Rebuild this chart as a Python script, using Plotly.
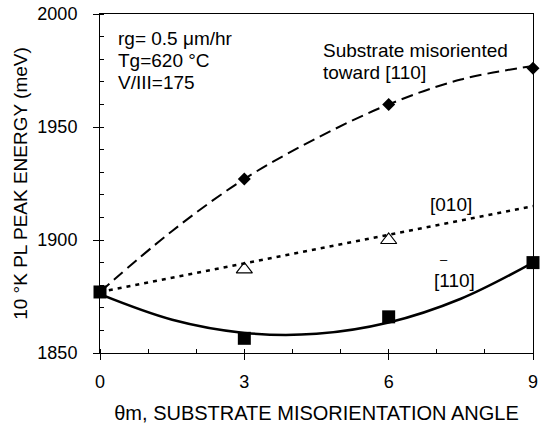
import plotly.graph_objects as go

# Measured data points
theta_110 = [3, 6, 9]
e_110 = [1927, 1960, 1976]
theta_010 = [3, 6]
e_010 = [1887, 1900]
theta_1b10 = [0, 3, 6, 9]
e_1b10 = [1877, 1856.5, 1866, 1890]

# Fitted curves
curve_x = [0, 1.5, 3, 4.5, 6, 7.5, 9]
curve_110 = [1877, 1904, 1927, 1945, 1960, 1971, 1977]
curve_1b10 = [1876, 1864.7, 1858.9, 1858.5, 1863.5, 1874, 1890]
line_010_x = [0, 9]
line_010_y = [1877, 1915]

x_ticks = [0, 3, 6, 9]
y_ticks = [1850, 1900, 1950, 2000]

FONT = "Liberation Sans, Arial, sans-serif"

fig = go.Figure()
fig.add_trace(go.Scatter(x=curve_x, y=curve_110, mode="lines", line_shape="spline",
                         line=dict(color="black", width=2, dash="12px,6px"),
                         hoverinfo="skip", showlegend=False))
fig.add_trace(go.Scatter(x=line_010_x, y=line_010_y, mode="lines",
                         line=dict(color="black", width=2.5, dash="4px,5px"),
                         hoverinfo="skip", showlegend=False))
fig.add_trace(go.Scatter(x=curve_x, y=curve_1b10, mode="lines", line_shape="spline",
                         line=dict(color="black", width=2.5),
                         hoverinfo="skip", showlegend=False))
fig.add_trace(go.Scatter(x=theta_110, y=e_110, mode="markers",
                         marker=dict(symbol="diamond", size=10, color="black"),
                         cliponaxis=False, showlegend=False))
fig.add_trace(go.Scatter(x=theta_010, y=e_010, mode="markers",
                         marker=dict(symbol="triangle-up-open", size=14, color="black",
                                     line=dict(width=1.2)),
                         cliponaxis=False, showlegend=False))
fig.add_trace(go.Scatter(x=theta_1b10, y=e_1b10, mode="markers",
                         marker=dict(symbol="square", size=13, color="black"),
                         cliponaxis=False, showlegend=False))

ann = dict(xref="x", yref="y", showarrow=False, xanchor="left", yanchor="middle",
           font=dict(family=FONT, size=19, color="black"))
texts = [
    ("rg= 0.5 \u03bcm/hr", 0.33, 1989),
    ("Tg=620 \u00b0C", 0.33, 1979.6),
    ("V/III=175", 0.33, 1969.5),
    ("Substrate misoriented", 4.6, 1984),
    ("toward [110]", 4.6, 1974),
    ("[010]", 6.82, 1915.5),
    ("[110]", 6.9, 1882.3),
]
for t, x, y in texts:
    fig.add_annotation(text=t, x=x, y=y, **ann)
fig.add_annotation(text="\u2013", x=7.16, y=1891.5, xref="x", yref="y", showarrow=False,
                   xanchor="center", yanchor="middle",
                   font=dict(family=FONT, size=13, color="black"))

fig.update_layout(
    width=545, height=426,
    margin=dict(l=100, r=12, t=14, b=73),
    paper_bgcolor="white", plot_bgcolor="white",
    font=dict(family=FONT, color="black"),
)
fig.update_xaxes(range=[0, 9], tickvals=x_ticks, showgrid=False, zeroline=False,
                 automargin=False,
                 showline=True, linecolor="black", linewidth=1, mirror=True,
                 ticks="outside", ticklen=6, tickcolor="black",
                 minor=dict(ticks="inside", dtick=1, ticklen=4, tickcolor="black", showgrid=False),
                 tickfont=dict(size=18), ticklabelstandoff=6,
                 title=dict(text="\u03b8m, SUBSTRATE MISORIENTATION ANGLE", font=dict(size=20), standoff=15))
fig.update_yaxes(range=[1850, 2000], tickvals=y_ticks, showgrid=False, zeroline=False,
                 automargin=False,
                 showline=True, linecolor="black", linewidth=1, mirror=True,
                 ticks="outside", ticklen=6, tickcolor="black",
                 minor=dict(ticks="inside", dtick=10, ticklen=4, tickcolor="black", showgrid=False),
                 tickfont=dict(size=18), ticklabelstandoff=12,
                 title=dict(text="10 \u00b0K PL PEAK ENERGY (meV)", font=dict(size=19), standoff=4))

fig.write_html("out.html")
